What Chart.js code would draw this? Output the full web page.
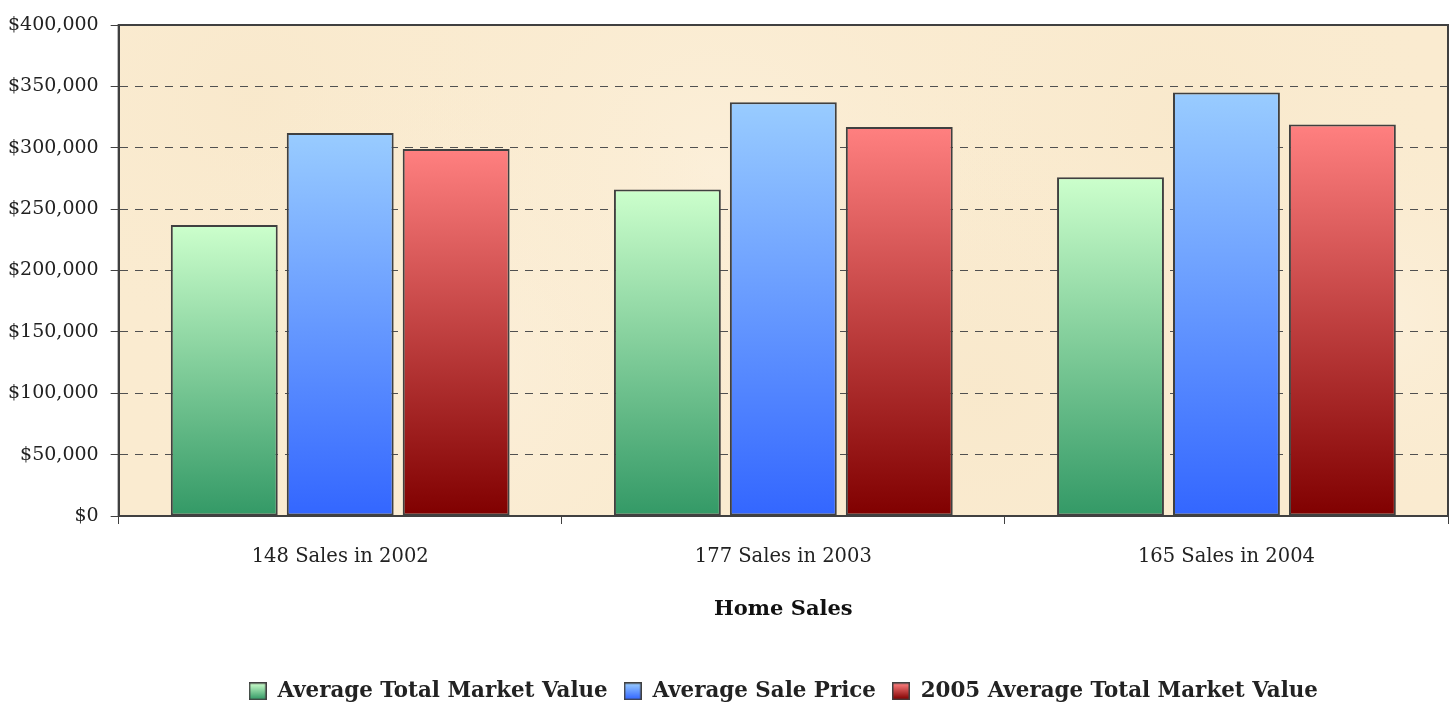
<!DOCTYPE html>
<html><head><meta charset="utf-8">
<script src="https://cdn.jsdelivr.net/npm/chart.js@4.4.1/dist/chart.umd.min.js"></script>
<style>html,body{margin:0;padding:0;background:#fff}</style>
</head><body>
<canvas id="c" width="1456" height="706"></canvas>
<script>
// ---- data ----
const categories = ['148 Sales in 2002', '177 Sales in 2003', '165 Sales in 2004'];
const avgTotalMarketValue = [237000, 266000, 276000];
const avgSalePrice = [312000, 337000, 345000];
const avg2005TotalMarketValue = [299000, 317000, 319000];
const seriesNames = ['Average Total Market Value', 'Average Sale Price', '2005 Average Total Market Value'];
const yTickValues = [0, 50000, 100000, 150000, 200000, 250000, 300000, 350000, 400000];
const xTitle = 'Home Sales';

// ---- styles ----
const FONT = "'DejaVu Serif', 'Liberation Serif', serif";
const gradStops = [
  ['#ccffcc', '#339966'],
  ['#99ccff', '#3366ff'],
  ['#ff8080', '#800000']
];
const EDGE = '#404040';

function barGradient(i) {
  return function (ctx) {
    const chart = ctx.chart;
    const ys = chart.scales.y;
    if (!ys || !chart.chartArea || ctx.parsed === undefined) return gradStops[i][1];
    const top = ys.getPixelForValue(ctx.parsed.y);
    const bottom = ys.getPixelForValue(0);
    const g = chart.ctx.createLinearGradient(0, top, 0, bottom);
    g.addColorStop(0, gradStops[i][0]);
    g.addColorStop(1, gradStops[i][1]);
    return g;
  };
}

function legendImage(i) {
  const c = document.createElement('canvas');
  c.width = 18; c.height = 18;
  const x = c.getContext('2d');
  const g = x.createLinearGradient(0, 1, 0, 17);
  g.addColorStop(0, gradStops[i][0]);
  g.addColorStop(1, gradStops[i][1]);
  x.fillStyle = g;
  x.fillRect(1, 1, 16, 16);
  x.strokeStyle = EDGE;
  x.lineWidth = 1.5;
  x.strokeRect(0.75, 0.75, 16.5, 16.5);
  return c;
}
const legendImgs = [0, 1, 2].map(legendImage);

const parchment = {
  id: 'parchment',
  beforeDraw(chart) {
    const { ctx, chartArea: a } = chart;
    ctx.save();
    ctx.fillStyle = '#faebd0';
    ctx.fillRect(a.left, a.top, a.right - a.left, a.bottom - a.top);
    const spots = [[0.1, 0.15, 0.2], [0.45, 0.3, 0.25], [0.8, 0.2, 0.2], [0.25, 0.7, 0.25], [0.65, 0.75, 0.25], [0.95, 0.6, 0.15]];
    const w = a.right - a.left, h = a.bottom - a.top;
    ctx.beginPath();
    ctx.rect(a.left, a.top, w, h);
    ctx.clip();
    spots.forEach(([fx, fy, fr], k) => {
      const cx = a.left + fx * w, cy = a.top + fy * h, r = fr * w;
      const g = ctx.createRadialGradient(cx, cy, 0, cx, cy, r);
      g.addColorStop(0, k % 2 ? 'rgba(253,243,226,0.5)' : 'rgba(246,228,196,0.35)');
      g.addColorStop(1, 'rgba(250,235,208,0)');
      ctx.fillStyle = g;
      ctx.fillRect(a.left, a.top, w, h);
    });
    ctx.restore();
  },
  afterDatasetsDraw(chart) {
    const { ctx, chartArea: a } = chart;
    ctx.save();
    ctx.strokeStyle = EDGE;
    ctx.lineWidth = 2;
    ctx.strokeRect(a.left, a.top, a.right - a.left, a.bottom - a.top);
    ctx.restore();
  }
};

const datasets = [avgTotalMarketValue, avgSalePrice, avg2005TotalMarketValue].map((d, i) => ({
  label: seriesNames[i],
  data: d,
  backgroundColor: barGradient(i),
  borderColor: EDGE,
  borderWidth: 2,
  borderSkipped: false,
  categoryPercentage: 0.785,
  barPercentage: 0.922
}));

new Chart(document.getElementById('c'), {
  type: 'bar',
  data: { labels: categories, datasets },
  plugins: [parchment],
  options: {
    responsive: false,
    animation: false,
    layout: { padding: { top: 25, right: 8, left: -4, bottom: -6 } },
    plugins: {
      tooltip: { enabled: false },
      legend: {
        position: 'bottom',
        fullSize: false,
        labels: {
          usePointStyle: true,
          boxWidth: 18,
          boxHeight: 18,
          padding: 16,
          color: '#222',
          font: { family: FONT, size: 21.4, weight: 'bold' },
          generateLabels() {
            return seriesNames.map((n, i) => ({
              text: n, datasetIndex: i, hidden: false,
              pointStyle: legendImgs[i], fillStyle: gradStops[i][1],
              strokeStyle: EDGE, lineWidth: 0, fontColor: '#222'
            }));
          }
        }
      }
    },
    scales: {
      x: {
        grid: { display: true, drawOnChartArea: false, drawTicks: true, tickLength: 8, color: EDGE, tickColor: EDGE, offset: true },
        border: { display: true, color: EDGE, width: 2 },
        ticks: { color: '#222', padding: 21, font: { family: FONT, size: 19.5 } },
        title: { display: true, text: xTitle, color: '#111', padding: { top: 8, bottom: 42 }, font: { family: FONT, size: 21, weight: 'bold' } }
      },
      y: {
        min: 0, max: 400000,
        afterBuildTicks(scale) { scale.ticks = yTickValues.map(v => ({ value: v })); },
        grid: { color: '#505050', lineWidth: 1, tickLength: 8, tickColor: EDGE, borderDash: [8, 7] },
        border: { display: true, color: EDGE, width: 2, dash: [8, 7] },
        ticks: {
          color: '#222', padding: 12,
          font: { family: FONT, size: 19 },
          callback(v) { return '$' + Number(v).toLocaleString('en-US'); }
        }
      }
    }
  }
});
</script>
</body></html>
